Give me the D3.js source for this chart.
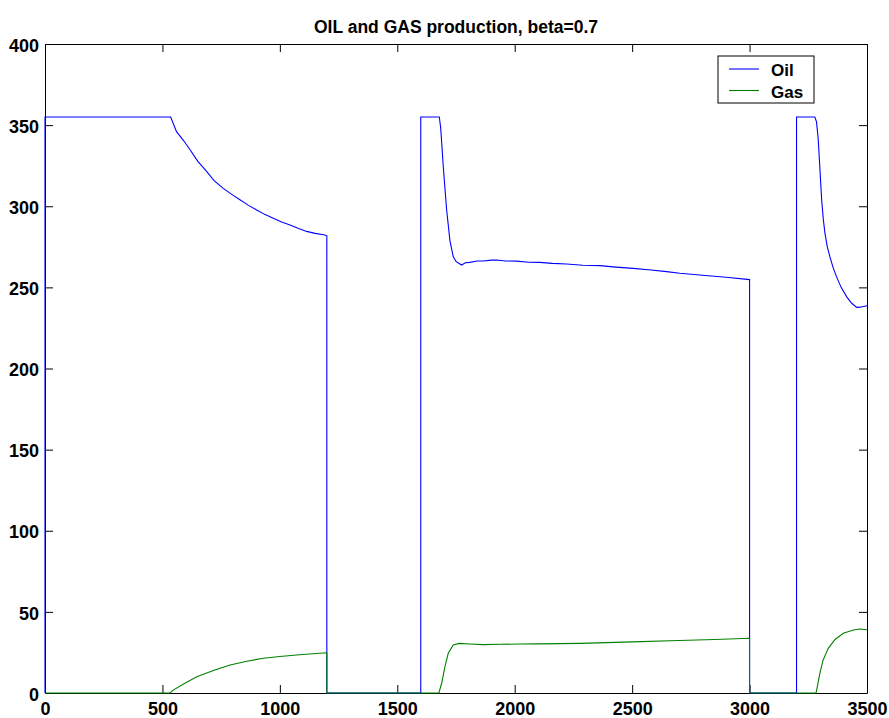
<!DOCTYPE html>
<html>
<head>
<meta charset="utf-8">
<script src="https://cdn.jsdelivr.net/npm/d3@7"></script>
<style>
  body { margin: 0; background: #fff; }
  svg { display: block; font-family: "Liberation Sans", Arial, sans-serif; }
</style>
</head>
<body>
<svg id="chart"></svg>
<script>
// time (x) and rate (y)
const oilTime = [0, 0, 535, 560, 590, 617, 650, 688, 720, 759, 795, 830, 865, 901, 935, 972, 1005, 1043, 1080, 1114, 1150, 1192, 1200, 1200,
  1600, 1600, 1679, 1685, 1696, 1710, 1724, 1738, 1750, 1760, 1774, 1790, 1809, 1840, 1866, 1900, 1923,
  1960, 2008, 2060, 2107, 2160, 2221, 2290, 2363, 2430, 2505, 2580, 2647, 2703, 2800, 2900,
  3000, 3000, 3200, 3200, 3278, 3285, 3292, 3299, 3307, 3314, 3321, 3331, 3342, 3355, 3370, 3390, 3413, 3435, 3456, 3470, 3500];
const oilRate = [0, 355, 355, 346, 340.5, 335, 327.8, 321.5, 315.8, 311, 307.3, 304, 300.7, 297.7, 295, 292.6, 290.4, 288.4, 286.3, 284.5, 283.3, 282.3, 281.8, 0,
  0, 355, 355, 348, 324, 298, 279, 269, 266, 265, 263.8, 265.2, 265.4, 266.3, 266.3, 266.8, 266.9,
  266.3, 266.2, 265.5, 265.4, 264.8, 264.4, 263.6, 263.4, 262.5, 261.7, 260.7, 259.7, 258.7, 257.5, 256.2,
  254.8, 0, 0, 355, 355, 352, 342, 324.4, 303.9, 292, 283.3, 275, 268.9, 262.5, 256.6, 250, 244.3, 240.2, 237.7, 237.8, 238.7];

const gasTime = [0, 532, 546, 590, 646, 720, 788, 860, 929, 1000, 1071, 1140, 1200, 1200,
  1677, 1689, 1703, 1717, 1738, 1764, 1809, 1866, 1937, 2015, 2100, 2278, 2500, 2700, 2850, 3000, 3000,
  3283, 3290, 3299, 3313, 3335, 3364, 3399, 3442, 3470, 3500];
const gasRate = [0, 0, 1.8, 5.5, 10, 14, 17.3, 19.6, 21.4, 22.5, 23.4, 24.2, 24.8, 0,
  0, 6, 16.2, 24.5, 29.6, 30.6, 30.2, 29.8, 30, 30.2, 30.3, 30.6, 31.5, 32.4, 33, 33.7, 0,
  0, 5, 12, 20.3, 27.5, 33, 36.8, 38.8, 39.4, 39];

const xTicks = [0, 500, 1000, 1500, 2000, 2500, 3000, 3500];
const yTicks = [0, 50, 100, 150, 200, 250, 300, 350, 400];
const seriesNames = ["Oil", "Gas"];
const seriesColors = ["#0000ff", "#008000"];
const chartTitle = "OIL and GAS production, beta=0.7";

const width = 889, height = 718;
const margin = { top: 44, right: 22, bottom: 25, left: 45 };

const svg = d3.select("#chart").attr("width", width).attr("height", height);

const x = d3.scaleLinear().domain([0, 3500]).range([margin.left, width - margin.right]);
const y = d3.scaleLinear().domain([0, 400]).range([height - margin.bottom, margin.top]);

// title
svg.append("text")
  .attr("x", (x(0) + x(3500)) / 2)
  .attr("y", 33)
  .attr("text-anchor", "middle")
  .style("font-size", "17.5px")
  .style("font-weight", "bold")
  .text(chartTitle);

// axes, ticks pointing inward like matlab
const fmt = d3.format("d");
const gx = svg.append("g")
  .attr("transform", `translate(0,${y(0)})`)
  .call(d3.axisBottom(x).tickValues(xTicks).tickFormat(fmt).tickSizeInner(-8).tickSizeOuter(0).tickPadding(9));
const gxTop = svg.append("g")
  .attr("transform", `translate(0,${y(400)})`)
  .call(d3.axisTop(x).tickValues(xTicks).tickSizeInner(-8).tickSizeOuter(0).tickFormat(""));
const gy = svg.append("g")
  .attr("transform", `translate(${x(0)},0)`)
  .call(d3.axisLeft(y).tickValues(yTicks).tickFormat(fmt).tickSizeInner(-8).tickSizeOuter(0).tickPadding(6));
const gyRight = svg.append("g")
  .attr("transform", `translate(${x(3500)},0)`)
  .call(d3.axisRight(y).tickValues(yTicks).tickSizeInner(-8).tickSizeOuter(0).tickFormat(""));

[gx, gxTop, gy, gyRight].forEach(g => {
  g.selectAll("path, line").attr("stroke", "#000").attr("stroke-width", 1);
  g.selectAll("text")
    .attr("fill", "#000")
    .style("font-family", "'Liberation Sans', Arial, sans-serif")
    .style("font-size", "18px")
    .style("font-weight", "bold");
});
gy.selectAll("text").attr("dy", "0.4em");

// lines
const line = d3.line().x(d => x(d[0])).y(d => y(d[1]));
const oil = oilTime.map((t, i) => [t, oilRate[i]]);
const gas = gasTime.map((t, i) => [t, gasRate[i]]);

[oil, gas].forEach((data, i) => {
  svg.append("path")
    .datum(data)
    .attr("fill", "none")
    .attr("stroke", seriesColors[i])
    .attr("stroke-width", 1.1)
    .attr("d", line);
});

// legend
const legend = svg.append("g").attr("transform", "translate(718,56)");
legend.append("rect")
  .attr("width", 96).attr("height", 47)
  .attr("fill", "#fff").attr("stroke", "#000").attr("stroke-width", 1);
seriesNames.forEach((name, i) => {
  const ly = 13 + i * 21.5;
  legend.append("line")
    .attr("x1", 11).attr("x2", 41)
    .attr("y1", ly).attr("y2", ly)
    .attr("stroke", seriesColors[i]).attr("stroke-width", 1.1);
  legend.append("text")
    .attr("x", 53).attr("y", ly + 7)
    .style("font-size", "17px")
    .style("font-weight", "bold")
    .text(name);
});
</script>
</body>
</html>
